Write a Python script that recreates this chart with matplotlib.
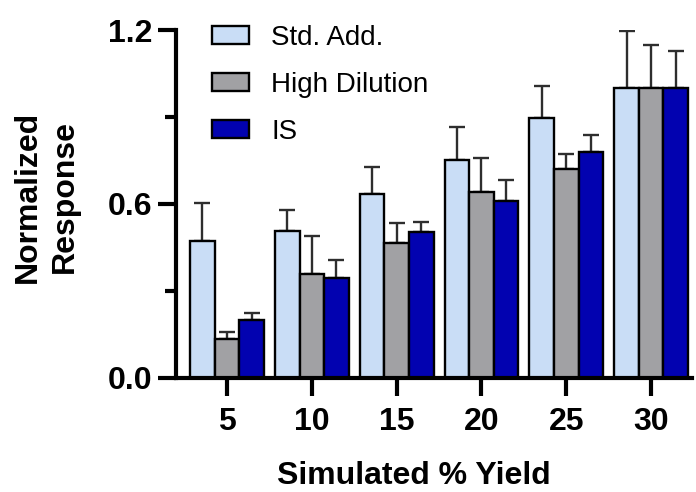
import matplotlib
matplotlib.use("Agg")
import matplotlib.pyplot as plt
import numpy as np
from matplotlib.ticker import MultipleLocator

plt.rcParams['font.family'] = ['Liberation Sans', 'DejaVu Sans']

categories = ["5", "10", "15", "20", "25", "30"]
series_names = ["Std. Add.", "High Dilution", "IS"]
std_add = [0.473, 0.506, 0.634, 0.753, 0.895, 1.0]
std_add_err = [0.131, 0.073, 0.094, 0.112, 0.111, 0.196]
high_dil = [0.135, 0.358, 0.464, 0.642, 0.721, 1.0]
high_dil_err = [0.022, 0.130, 0.071, 0.118, 0.051, 0.149]
is_vals = [0.201, 0.344, 0.504, 0.610, 0.778, 1.0]
is_err = [0.023, 0.061, 0.032, 0.072, 0.059, 0.128]

colors = ["#c9ddf6", "#a1a1a4", "#0202b0"]

fig = plt.figure(figsize=(6.96, 4.92), dpi=100)
ax = fig.add_axes([0.253, 0.232, 0.741, 0.707])

x = np.arange(len(categories))
w = 0.29
vals = [std_add, high_dil, is_vals]
errs = [std_add_err, high_dil_err, is_err]
for i, (v, e, c, n) in enumerate(zip(vals, errs, colors, series_names)):
    xpos = x + (i - 1) * w
    ax.errorbar(xpos, v, yerr=[np.zeros(len(v)), e], fmt='none', ecolor='#2e2e2e',
                elinewidth=1.7, capsize=6, capthick=1.7, zorder=1)
    ax.bar(xpos, v, width=w, color=c, edgecolor='black', linewidth=1.7, label=n, zorder=2)

ax.set_xlim(-0.60, 5.48)
ax.set_ylim(0, 1.2)
ax.set_xticks(x)
ax.set_xticklabels(categories)
ax.set_yticks([0.0, 0.6, 1.2])
ax.set_yticklabels(["0.0", "0.6", "1.2"])
ax.yaxis.set_minor_locator(MultipleLocator(0.3))

for s in ['top', 'right']:
    ax.spines[s].set_visible(False)
for s in ['left', 'bottom']:
    ax.spines[s].set_linewidth(3)

ax.tick_params(axis='both', which='major', length=13, width=3, labelsize=23)
ax.tick_params(axis='x', which='major', pad=8)
ax.tick_params(axis='y', which='major', pad=4)
ax.tick_params(axis='y', which='minor', length=8, width=3)
for lab in ax.get_xticklabels() + ax.get_yticklabels():
    lab.set_fontweight('bold')

ax.set_xlabel("Simulated % Yield", fontsize=23, fontweight='bold')
ax.xaxis.set_label_coords(0.46, -0.282)
ax.xaxis.label.set_va('center')
ax.set_ylabel("Normalized\nResponse", fontsize=23, fontweight='bold', linespacing=1.3)
ax.yaxis.set_label_coords(-0.252, 0.52)
ax.yaxis.label.set_va('center')

leg = ax.legend(loc='upper left', bbox_to_anchor=(0.07, 1.015), frameon=False,
                fontsize=20, handlelength=1.33, handleheight=0.62, labelspacing=0.76,
                handletextpad=0.8, borderpad=0, borderaxespad=0)

fig.savefig("out.png", dpi=100)
